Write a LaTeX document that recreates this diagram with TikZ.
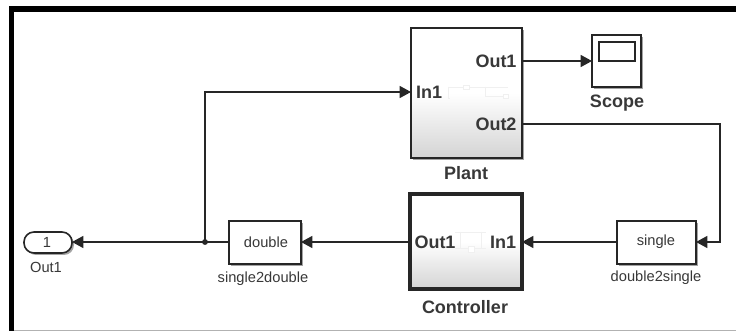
\documentclass[tikz,border=0pt]{standalone}
\usepackage{fontspec}
\setmainfont{Liberation Sans}
\usepackage{xcolor}
\usetikzlibrary{arrows.meta,shadows}
\definecolor{linegray}{gray}{0.15}
\definecolor{textgray}{gray}{0.22}
\definecolor{fadegray}{gray}{0.94}
\tikzset{
	blockbox/.style={draw=linegray,line width=1.2pt,fill=white,anchor=north west,inner sep=0pt,outer sep=0pt,
		drop shadow={shadow xshift=1.5pt,shadow yshift=-1.5pt,fill=black!60,opacity=0.6}},
	subsysbox/.style={blockbox,top color=white,bottom color=black!17,middle color=white},
	portlabel/.style={text=textgray,font=\fontsize{13.5}{15}\selectfont\bfseries,inner sep=0pt},
	blocklabel/.style={text=textgray,font=\fontsize{11}{13}\selectfont,inner sep=0pt},
	wire/.style={color=linegray,line width=1pt},
	tip/.style={-{Triangle[length=8.5pt,width=9pt]}},
	faint/.style={draw=fadegray,line width=0.4pt}
}
\begin{document}
\begin{tikzpicture}[x=0.75pt,y=-0.75pt]
		\useasboundingbox (0,0) rectangle (736,331);
		% window edges
		\fill[black] (9,6) rectangle (736,12);
		\fill[black] (9,6) rectangle (14,331);
		\fill[black!30] (14,330) rectangle (736,331);
		%
		\node[subsysbox,minimum width=83.25pt,minimum height=97.5pt] (Plant) at (411,28) {};
		\node[subsysbox,line width=2.4pt,minimum width=84pt,minimum height=71.25pt] (Controller) at (410,194) {};
		\node[blockbox,minimum width=36.75pt,minimum height=39pt] (Scope) at (592,35) {};
		\node[draw=linegray,line width=1pt,anchor=north west,inner sep=0pt,outer sep=0pt,minimum width=27pt,minimum height=14.25pt] (Screen) at (599,42) {};
		\node[blockbox,minimum width=59.25pt,minimum height=32.25pt] (Single) at (617,221) {};
		\node[blockbox,minimum width=54pt,minimum height=32.25pt] (Double) at (229,221) {};
		\node[blockbox,rounded corners=7.5pt,minimum width=36pt,minimum height=15.75pt] (OutPort) at (24,232) {};
		% inner diagrams, hardly visible
		\draw[faint] (448,87) -- (508,87) (448,87) -- (448,98) -- (450,98) (485,87) -- (485,96) -- (508,96);
		\draw[faint,fill=white] (463,85) rectangle (469,89) (503,94) rectangle (508,98);
		\draw[faint] (460,232) -- (460,248) (481,232) -- (481,248) (455,232) -- (486,232) (455,248) -- (486,248);
		\draw[faint,fill=white] (468,246) rectangle (474,252);
		% texts
		\node[blocklabel] (OutNum) at (47,242) {1};
		\node[blocklabel] (OutName) at (46,267) {Out1};
		\node[blocklabel] (DoubleText) at (266,242) {double};
		\node[blocklabel] (DoubleName) at (263,279) {single2double};
		\node[blocklabel] (SingleText) at (656,242) {single};
		\node[blocklabel] (SingleName) at (656,278) {double2single};
		\node[portlabel] (PlantIn) at (429,92) {In1};
		\node[portlabel] (PlantOutA) at (496,61) {Out1};
		\node[portlabel] (PlantOutB) at (496,124) {Out2};
		\node[portlabel] (PlantName) at (466,173) {Plant};
		\node[portlabel] (ScopeName) at (617,103) {Scope};
		\node[portlabel] (ContOut) at (435,242) {Out1};
		\node[portlabel] (ContIn) at (503,242) {In1};
		\node[portlabel] (ContName) at (465,307) {Controller};
		% free ends of the wires
		\coordinate (Junction) at (205,242);
		\coordinate (PlantW) at (411,92);
		\coordinate (PlantA) at (522,61);
		\coordinate (PlantB) at (522,124);
		\coordinate (ScopeW) at (592,61);
		\coordinate (ContW) at (410,242);
		\coordinate (ContE) at (522,242);
		\coordinate (SingleW) at (617,242);
		\coordinate (SingleE) at (696,242);
		\coordinate (DoubleW) at (229,242);
		\coordinate (DoubleE) at (301,242);
		\coordinate (OutE) at (72,242);
		\coordinate (TurnUp) at (205,92);
		\coordinate (TurnRight) at (720,124);
		\coordinate (TurnDown) at (720,242);
		%
		\path[wire,tip]
		(PlantA) edge (ScopeW)
		(SingleW) edge (ContE)
		(ContW) edge (DoubleE)
		(DoubleW) edge (OutE);
		\draw[wire,tip] (Junction) -- (TurnUp) -- (PlantW);
		\draw[wire,tip] (PlantB) -- (TurnRight) -- (TurnDown) -- (SingleE);
		\fill[linegray] (Junction) circle (2.2pt);
\end{tikzpicture}
\end{document}
